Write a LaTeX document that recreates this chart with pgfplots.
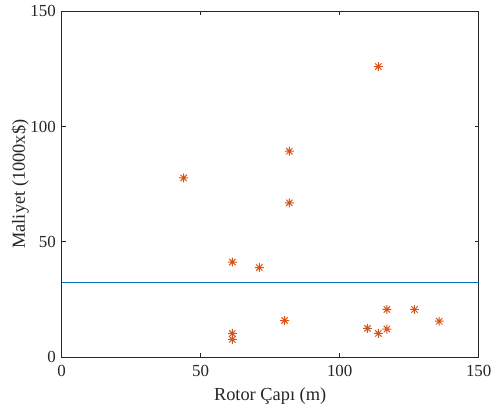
\documentclass[border=0pt]{standalone}
\usepackage{fontspec}
\setmainfont{Liberation Serif}
\usepackage{pgfplots}
\pgfplotsset{compat=1.18}
\definecolor{mblue}{rgb}{0,0.447,0.741}
\definecolor{morange}{rgb}{0.85,0.325,0.098}
\definecolor{axgray}{rgb}{0.15,0.15,0.15}
% MATLAB style eight-arm asterisk
\pgfdeclareplotmark{star8}{%
  \pgfpathmoveto{\pgfqpoint{0pt}{\pgfplotmarksize}}%
  \pgfpathlineto{\pgfqpoint{0pt}{-\pgfplotmarksize}}%
  \pgfpathmoveto{\pgfqpoint{\pgfplotmarksize}{0pt}}%
  \pgfpathlineto{\pgfqpoint{-\pgfplotmarksize}{0pt}}%
  \pgfpathmoveto{\pgfqpoint{0.707\pgfplotmarksize}{0.707\pgfplotmarksize}}%
  \pgfpathlineto{\pgfqpoint{-0.707\pgfplotmarksize}{-0.707\pgfplotmarksize}}%
  \pgfpathmoveto{\pgfqpoint{-0.707\pgfplotmarksize}{0.707\pgfplotmarksize}}%
  \pgfpathlineto{\pgfqpoint{0.707\pgfplotmarksize}{-0.707\pgfplotmarksize}}%
  \pgfusepathqstroke}
\begin{document}
\fontsize{17bp}{20bp}\selectfont
\begin{tikzpicture}
\begin{axis}[
  scale only axis,
  width=420bp, height=348bp,
  xmin=0, xmax=150, ymin=0, ymax=150,
  xtick={0,50,100,150}, ytick={0,50,100,150},
  tick align=inside,
  major tick length=4bp,
  axis line style={axgray, line width=0.7bp},
  tick style={axgray, line width=0.7bp},
  every tick label/.append style={text=axgray, font=\fontsize{17bp}{20bp}\selectfont},
  xticklabel style={yshift=-3bp},
  /pgf/number format/assume math mode=true,
  xlabel={Rotor Çapı (m)},
  ylabel={Maliyet (1000x\$)},
  label style={text=axgray, font=\fontsize{18.5bp}{22bp}\selectfont},
  xlabel style={yshift=1bp},
  ylabel style={yshift=-10bp},
  clip=false,
]
\addplot[draw=mblue, color=mblue, line width=1.2bp] coordinates {(0,32.2) (150,32.2)};
\addplot[only marks, mark=star8, mark size=4.5bp, color=morange, mark options={line width=1bp}] coordinates {
  (43.9,77.7)
  (113.9,126.0)
  (81.9,89.3)
  (81.9,66.9)
  (61.4,41.2)
  (71.1,38.8)
  (61.4,10.2)
  (61.4,7.6)
  (80.2,15.8)
  (110.0,12.4)
  (113.9,10.2)
  (117.0,20.6)
  (117.0,12.1)
  (126.9,20.6)
  (135.8,15.5)
};
\end{axis}
\path (current axis.south west) ++(-62bp,-53bp);
\path (current axis.north east) ++(12bp,9bp);
\end{tikzpicture}
\end{document}
